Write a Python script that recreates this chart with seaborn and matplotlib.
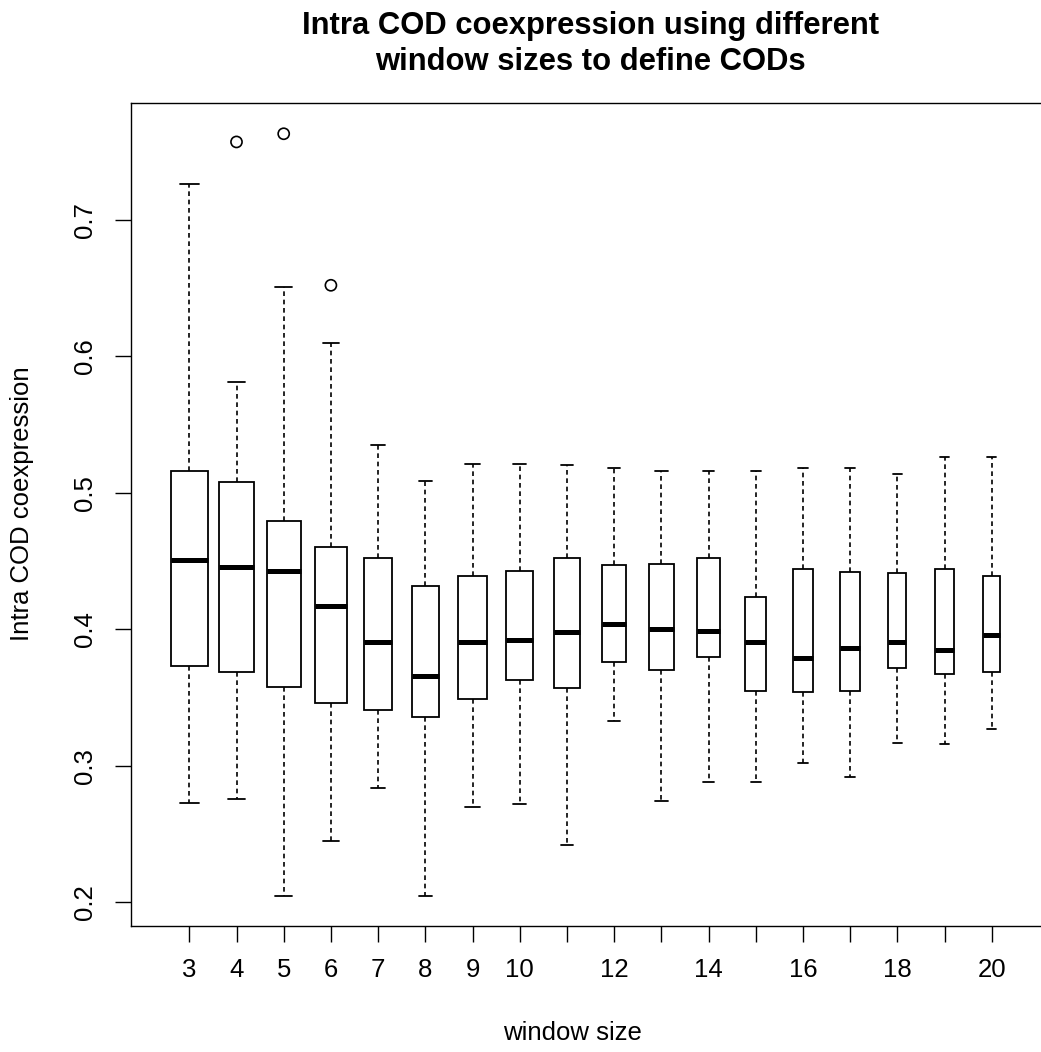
import numpy as np
import pandas as pd
import matplotlib
matplotlib.use("Agg")
import matplotlib.pyplot as plt
import seaborn as sns

# ---- data ----
window_sizes = ["3", "4", "5", "6", "7", "8", "9", "10", "11", "12",
                "13", "14", "15", "16", "17", "18", "19", "20"]
lower_whisker = [0.273, 0.276, 0.205, 0.245, 0.284, 0.205, 0.270, 0.272, 0.242,
                 0.333, 0.274, 0.288, 0.288, 0.302, 0.292, 0.317, 0.316, 0.327]
q1 = [0.373, 0.369, 0.358, 0.346, 0.341, 0.336, 0.349, 0.363, 0.357,
      0.376, 0.370, 0.380, 0.355, 0.354, 0.355, 0.372, 0.367, 0.369]
median = [0.451, 0.446, 0.443, 0.417, 0.391, 0.366, 0.391, 0.392, 0.398,
          0.404, 0.400, 0.399, 0.391, 0.379, 0.386, 0.391, 0.385, 0.396]
q3 = [0.516, 0.508, 0.479, 0.460, 0.452, 0.432, 0.439, 0.443, 0.452,
      0.447, 0.448, 0.452, 0.424, 0.444, 0.442, 0.441, 0.444, 0.439]
upper_whisker = [0.726, 0.581, 0.651, 0.610, 0.535, 0.509, 0.521, 0.521, 0.520,
                 0.518, 0.516, 0.516, 0.516, 0.518, 0.518, 0.514, 0.526, 0.526]
outlier_sizes = ["4", "5", "6"]
outlier_values = [0.757, 0.763, 0.652]
x_tick_labels = ["3", "4", "5", "6", "7", "8", "9", "10", "", "12",
                 "", "14", "", "16", "", "18", "", "20"]
y_ticks = [0.2, 0.3, 0.4, 0.5, 0.6, 0.7]
y_tick_labels = ["0.2", "0.3", "0.4", "0.5", "0.6", "0.7"]

# style: relative box widths (varwidth look)
box_widths = [0.79, 0.74, 0.72, 0.68, 0.61, 0.57, 0.60, 0.56, 0.54,
              0.51, 0.53, 0.50, 0.44, 0.43, 0.42, 0.38, 0.40, 0.37]

sns.set_style("ticks")
plt.rcParams["font.family"] = ["Liberation Sans", "DejaVu Sans"]
plt.rcParams["text.color"] = "black"
plt.rcParams["axes.labelcolor"] = "black"
plt.rcParams["xtick.color"] = "black"
plt.rcParams["ytick.color"] = "black"

W, H = 1041, 1052
fig = plt.figure(figsize=(W / 100, H / 100), dpi=100)
ax_left, ax_right, ax_top, ax_bottom = 130.7, 1049.3, 103.3, 925.7
ax = fig.add_axes([ax_left / W, 1 - ax_bottom / H,
                   (ax_right - ax_left) / W, (ax_bottom - ax_top) / H])

for i, ws in enumerate(window_sizes):
    df = pd.DataFrame({
        "window size": [ws] * 5,
        "value": [lower_whisker[i], q1[i], median[i], q3[i], upper_whisker[i]],
    })
    sns.boxplot(data=df, x="window size", y="value", order=window_sizes,
                width=box_widths[i], whis=(0, 100), color="white",
                linecolor="black", linewidth=1.3, showfliers=False,
                medianprops=dict(linewidth=3.6, color="black"),
                whiskerprops=dict(linestyle=(0, (2.8, 2.2)), linewidth=1.2),
                ax=ax)

out_df = pd.DataFrame({"window size": outlier_sizes, "value": outlier_values})
sns.stripplot(data=out_df, x="window size", y="value", order=window_sizes,
              jitter=False, size=8, color="black", facecolor="none",
              edgecolor="black", linewidth=1.2, ax=ax)

ax.set_xlim(-1.2415, 18.22)
ax.set_ylim(0.1829, 0.7853)
ax.set_xticks(range(len(window_sizes)))
ax.set_xticklabels(x_tick_labels)
ax.set_yticks(y_ticks)
ax.set_yticklabels(y_tick_labels, rotation=90, va="center")
ax.tick_params(axis="both", direction="out", length=11.5, width=1.0,
               color="black", labelsize=18.5, labelcolor="black")
ax.tick_params(axis="x", pad=12)
ax.tick_params(axis="y", pad=13)
for sp in ax.spines.values():
    sp.set_visible(True)
    sp.set_color("black")
    sp.set_linewidth(1.0)

ax.set_xlabel("window size", fontsize=18.5, color="black")
ax.set_ylabel("Intra COD coexpression", fontsize=18.5, color="black")
aw = ax_right - ax_left
ah = ax_bottom - ax_top
ax.xaxis.set_label_coords((572 - ax_left) / aw, (ax_bottom - 1033) / ah)
ax.xaxis.label.set_va("center")
ax.yaxis.set_label_coords((22 - ax_left) / aw, (ax_bottom - 504) / ah)
ax.yaxis.label.set_va("center")

fig.text(590.7 / W, 1 - 44 / H,
         "Intra COD coexpression using different\nwindow sizes to define CODs",
         ha="center", va="center", fontsize=22.3, fontweight="bold",
         linespacing=1.27, color="black")

fig.savefig("out.png", dpi=100, facecolor="white")
